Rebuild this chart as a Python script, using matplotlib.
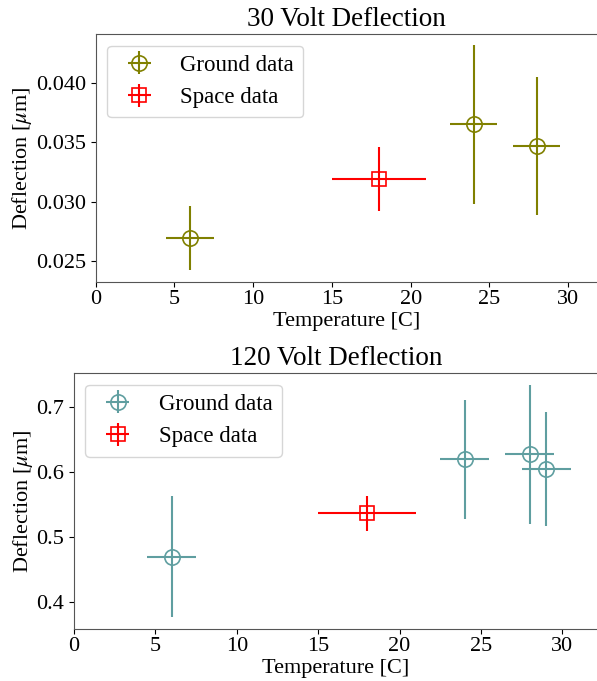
import numpy as np
import matplotlib
matplotlib.use("Agg")
import matplotlib.pyplot as plt

plt.rcParams['font.family'] = ['Liberation Serif', 'DejaVu Serif']
plt.rcParams['mathtext.fontset'] = 'stix'

# 30 V data
g30_t = [6, 24, 28]
g30_terr = [1.5, 1.5, 1.5]
g30_d = [0.0269, 0.0365, 0.0347]
g30_derr = [0.0027, 0.0067, 0.0058]
s30_t = [18]
s30_terr = [3]
s30_d = [0.0319]
s30_derr = [0.0027]

# 120 V data
g120_t = [6, 24, 28, 29]
g120_terr = [1.5, 1.5, 1.5, 1.5]
g120_d = [0.470, 0.620, 0.628, 0.605]
g120_derr = [0.093, 0.092, 0.107, 0.088]
s120_t = [18]
s120_terr = [3]
s120_d = [0.537]
s120_derr = [0.027]


def panel(ax, gt, gterr, gd, gderr, st, sterr, sd, sderr, gcol, title):
    ax.errorbar(gt, gd, xerr=gterr, yerr=gderr, fmt='o', color=gcol,
                mfc='none', ms=11, elinewidth=1.5, mew=1.2, label='Ground data')
    ax.errorbar(st, sd, xerr=sterr, yerr=sderr, fmt='s', color='red',
                mfc='none', ms=10, elinewidth=1.5, mew=1.2, label='Space data')
    ax.set_title(title, fontsize=19.5)
    ax.set_xlabel('Temperature [C]', fontsize=16, labelpad=2)
    ax.set_ylabel(r'Deflection [$\mu$m]', fontsize=16, labelpad=1)
    ax.tick_params(labelsize=16)
    ax.tick_params(axis='x', pad=2.5)
    for s in ax.spines.values():
        s.set_color('#555555')
    ax.legend(loc='upper left', fontsize=16.5)


fig = plt.figure(figsize=(5.97, 6.81), dpi=100)
ax1 = fig.add_axes([0.160, 0.586, 0.842, 0.364])
ax2 = fig.add_axes([0.124, 0.0764, 0.878, 0.3756])

panel(ax1, g30_t, g30_terr, g30_d, g30_derr, s30_t, s30_terr, s30_d, s30_derr,
      'olive', '30 Volt Deflection')
ax1.set_xlim(0, 31.9)
ax1.set_ylim(0.02323, 0.04411)
ax1.set_yticks([0.025, 0.030, 0.035, 0.040])

panel(ax2, g120_t, g120_terr, g120_d, g120_derr, s120_t, s120_terr, s120_d, s120_derr,
      'cadetblue', '120 Volt Deflection')
ax2.set_xlim(0, 32.2)
ax2.set_ylim(0.3585, 0.7528)
ax2.set_yticks([0.4, 0.5, 0.6, 0.7])

fig.savefig('out.png', dpi=100)
